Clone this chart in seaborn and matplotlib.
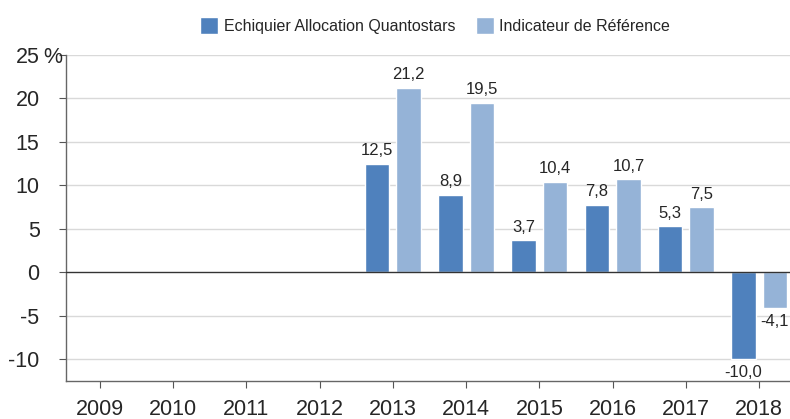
import numpy as np
import pandas as pd
import matplotlib
matplotlib.use("Agg")
import matplotlib.pyplot as plt
import seaborn as sns

years = ["2009", "2010", "2011", "2012", "2013", "2014", "2015", "2016", "2017", "2018"]
fonds = [np.nan, np.nan, np.nan, np.nan, 12.5, 8.9, 3.7, 7.8, 5.3, -10.0]
indice = [np.nan, np.nan, np.nan, np.nan, 21.2, 19.5, 10.4, 10.7, 7.5, -4.1]
series = ["Echiquier Allocation Quantostars", "Indicateur de Référence"]
colors = ["#4F81BD", "#95B3D7"]
yticks = [-10, -5, 0, 5, 10, 15, 20, 25]

df = pd.DataFrame({"Année": years * 2,
                   "Valeur": fonds + indice,
                   "Série": [series[0]] * len(years) + [series[1]] * len(years)})

sns.set_style("white")
plt.rcParams["font.family"] = ["Liberation Sans", "DejaVu Sans"]

fig = plt.figure(figsize=(7.9, 4.19), dpi=100)
ax = fig.add_axes([0.0835, 0.0907, 0.9165, 0.778])

sns.barplot(data=df, x="Année", y="Valeur", hue="Série", palette=colors,
            width=0.86, gap=0.22, ax=ax, saturation=1, legend=True)

ax.set_xlim(-0.46, 9.42)
ax.set_ylim(-12.5, 25)
ax.set_yticks(yticks)
ax.set_yticklabels([str(t) for t in yticks], fontsize=15.5)
ax.tick_params(axis="x", labelsize=15.5, length=5, pad=8, direction="out", color="#555555", bottom=True)
ax.tick_params(axis="y", length=5, pad=14, direction="out", color="#555555", left=True)
# signe % à côté du 25
ax.annotate("%", xy=(0, 25), xycoords=("axes fraction", "data"), xytext=(-16, 0),
            textcoords="offset points", ha="left", va="center_baseline", fontsize=15.5)
for t in yticks:
    if t != 0:
        ax.axhline(t, color="#d9d9d9", lw=1, zorder=0)
ax.axhline(0, color="#333333", lw=1, zorder=3)
ax.set_xlabel("")
ax.set_ylabel("")

for s in ["top", "right"]:
    ax.spines[s].set_visible(False)
for s in ["left", "bottom"]:
    ax.spines[s].set_color("#666666")
    ax.spines[s].set_linewidth(1)

# étiquettes de valeurs
for cont in ax.containers:
    labels = ["" if np.isnan(v) else f"{v:.1f}".replace(".", ",") for v in cont.datavalues]
    ax.bar_label(cont, labels=labels, padding=4, fontsize=12)

leg = ax.legend(loc="lower center", bbox_to_anchor=(0.51, 1.045), ncol=2, frameon=False,
                fontsize=11.5, handlelength=1.15, handleheight=1.2, columnspacing=1.25,
                handletextpad=0.35, borderaxespad=0)
ax.xaxis.set_ticks_position("bottom")

fig.savefig("out.png", dpi=100)
